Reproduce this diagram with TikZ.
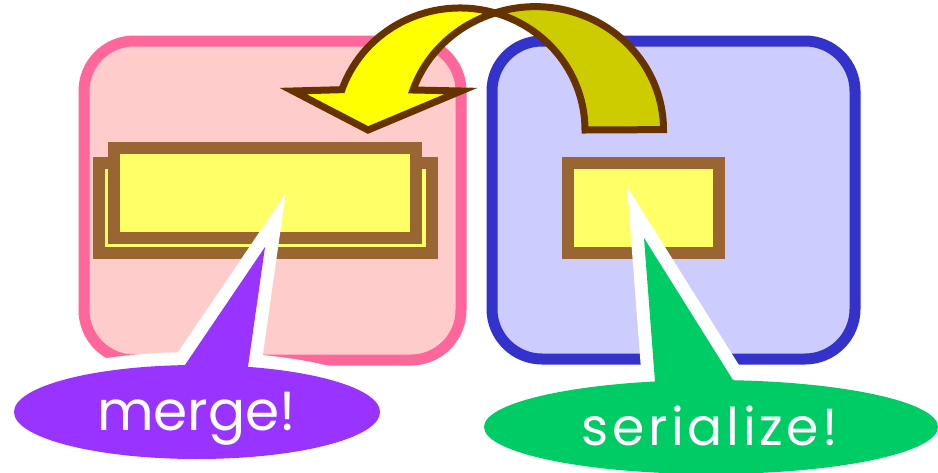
\documentclass[tikz,border=0pt]{standalone}
\usepackage{fontspec}
\setmainfont{Poppins}
\definecolor{pinkfill}{HTML}{FFCCCC}
\definecolor{pinkline}{HTML}{FF6699}
\definecolor{bluefill}{HTML}{CCCCFF}
\definecolor{blueline}{HTML}{3333CC}
\definecolor{rectfill}{HTML}{FFFF66}
\definecolor{rectline}{HTML}{996633}
\definecolor{callpurple}{HTML}{9933FF}
\definecolor{callgreen}{HTML}{00CC66}
\definecolor{arrowyellow}{HTML}{FFFF00}
\definecolor{arrowdark}{HTML}{CCCC00}
\definecolor{arrowline}{HTML}{663300}
\tikzset{
  bigbox/.style={rectangle, rounded corners=50pt, line width=11pt, inner sep=0pt},
  inrect/.style={rectangle, draw=rectline, fill=rectfill, line width=12pt, inner sep=0pt},
  arrowpart/.style={draw=arrowline, line width=7pt, line join=miter},
  calloutline/.style={draw=white, line width=26pt, line join=miter, miter limit=10},
  lbl/.style={text=white, font=\fontsize{55}{60}\selectfont, inner sep=0pt},
}
\begin{document}
\begin{tikzpicture}[x=1pt, y=1pt, yscale=-1]
\useasboundingbox (0,0) rectangle (938,472);
% big boxes
\node[bigbox, draw=pinkline, fill=pinkfill, minimum width=377pt, minimum height=319pt] (pinkbox) at (272.5,200.5) {};
\node[bigbox, draw=blueline, fill=bluefill, minimum width=363pt, minimum height=318pt] (bluebox) at (673.5,200) {};
% inner rectangles
\node[inrect, minimum width=333pt, minimum height=90pt] (backrect) at (265.5,208) {};
\node[inrect, minimum width=302pt, minimum height=89.5pt] (frontrect) at (265,192.75) {};
\node[inrect, minimum width=151pt, minimum height=90pt] (serrect) at (643.5,208) {};
% twisted arrow
\coordinate (tailA) at (585,130);
\path[arrowpart, fill=arrowdark] (tailA) arc[start angle=0, end angle=-73.7, x radius=125, y radius=122]
  arc[start angle=-108.4, end angle=0, x radius=128, y radius=123] -- cycle;
\coordinate (lbarb) at (293,91);
\coordinate (tip) at (368,130);
\coordinate (rbarb) at (461,91);
\path[arrowpart, fill=arrowyellow] (495,12.9) arc[start angle=286.3, end angle=199.3, x radius=125, y radius=122]
  -- (lbarb) -- (tip) -- (rbarb) -- (413,90)
  arc[start angle=199.1, end angle=251.3, x radius=128, y radius=123] -- cycle;
% callout merge
\path[calloutline] (197,412) ellipse[x radius=183, y radius=47];
\path[calloutline] (171.4,385) -- (265,247) -- (245.4,385) -- cycle;
\path[fill=callpurple] (197,412) ellipse[x radius=183, y radius=47];
\path[fill=callpurple] (171.4,385) -- (265,247) -- (245.4,385) -- cycle;
\node[lbl, anchor=base] (mergetxt) at (196.5,430) {merge!};
% callout serialize
\path[calloutline] (711,427) ellipse[x radius=227, y radius=47];
\path[calloutline] (656.4,400) -- (644,238) -- (745.5,400) -- cycle;
\path[fill=callgreen] (711,427) ellipse[x radius=227, y radius=47];
\path[fill=callgreen] (656.4,400) -- (644,238) -- (745.5,400) -- cycle;
\node[lbl, anchor=base, font=\fontsize{52}{56}\selectfont\addfontfeature{LetterSpace=7}] (sertxt) at (710,445) {serialize!};
\end{tikzpicture}
\end{document}
